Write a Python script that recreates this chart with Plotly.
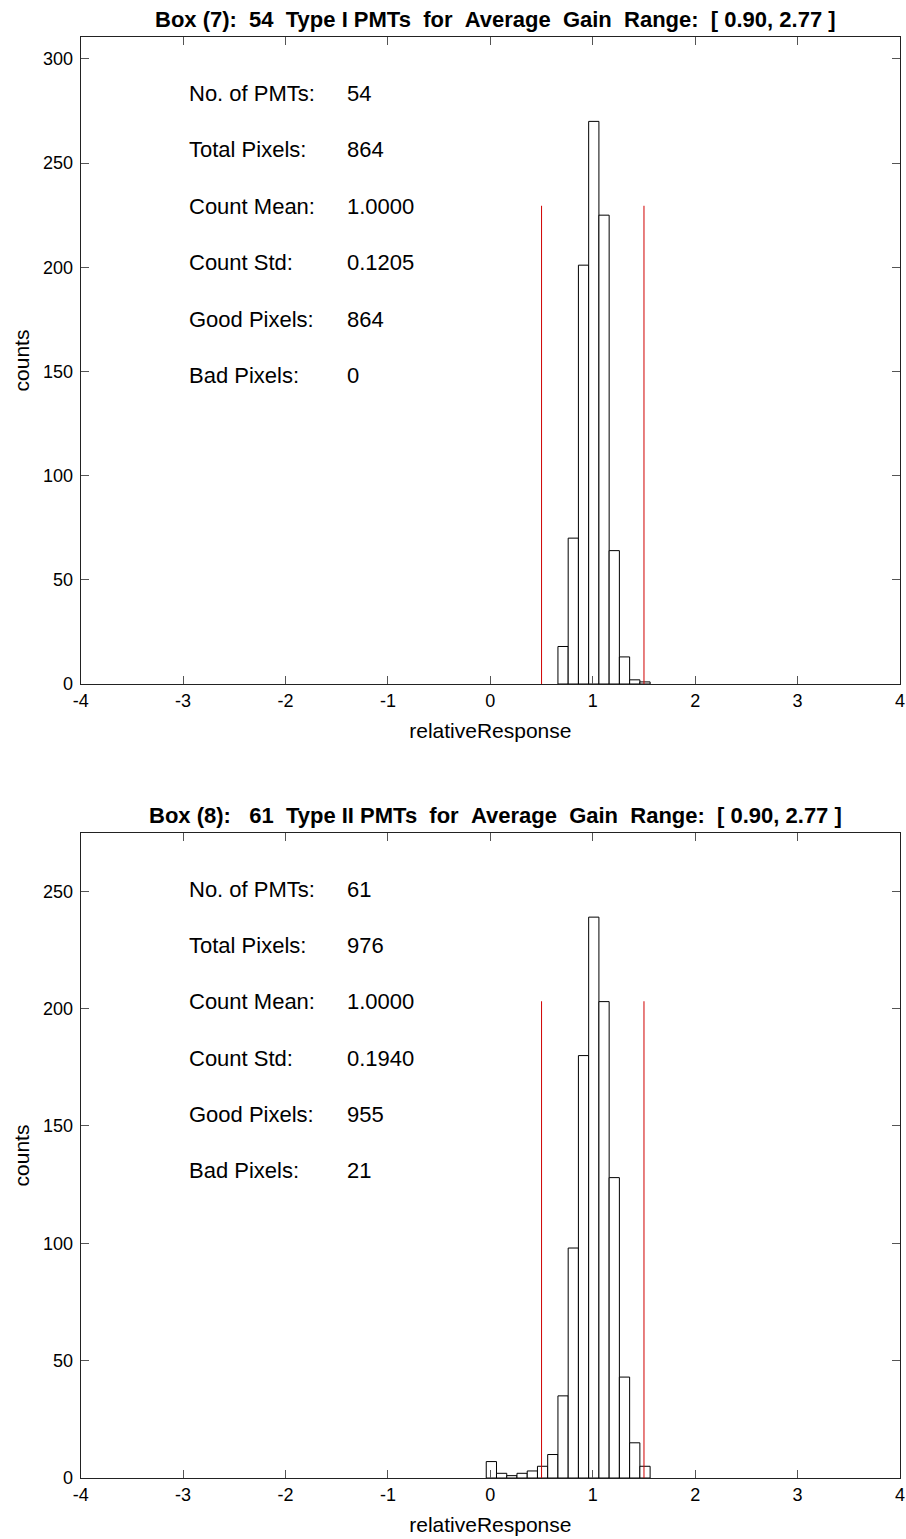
import plotly.graph_objects as go

# ---------------- data ----------------
top_centers = [0.71, 0.81, 0.91, 1.01, 1.11, 1.21, 1.31, 1.41, 1.51]
top_counts = [18, 70, 201, 270, 225, 64, 13, 2, 1]

bot_centers = [0.01, 0.11, 0.21, 0.31, 0.41, 0.51, 0.61, 0.71, 0.81,
               0.91, 1.01, 1.11, 1.21, 1.31, 1.41, 1.51]
bot_counts = [7, 2, 1, 2, 3, 5, 10, 35, 98, 180, 239, 203, 128, 43, 15, 5]

bin_width = 0.1
cut_low, cut_high = 0.5, 1.5

stat_labels = ["No. of PMTs:", "Total Pixels:", "Count Mean:",
               "Count Std:", "Good Pixels:", "Bad Pixels:"]
top_stats = ["54", "864", "1.0000", "0.1205", "864", "0"]
bot_stats = ["61", "976", "1.0000", "0.1940", "955", "21"]

top_title = "Box (7):  54  Type I PMTs  for  Average  Gain  Range:  [ 0.90, 2.77 ]"
bot_title = "Box (8):   61  Type II PMTs  for  Average  Gain  Range:  [ 0.90, 2.77 ]"

x_ticks = [-4, -3, -2, -1, 0, 1, 2, 3, 4]
top_yticks = [0, 50, 100, 150, 200, 250, 300]
bot_yticks = [0, 50, 100, 150, 200, 250]

# ---------------- figure ----------------
W, H = 906, 1539
FONT = "Liberation Sans, Arial, Helvetica, sans-serif"

fig = go.Figure()

panels = [
    dict(centers=top_centers, counts=top_counts, stats=top_stats, title=top_title,
         yticks=top_yticks, xa="x", ya="y", px_top=37, px_bot=684),
    dict(centers=bot_centers, counts=bot_counts, stats=bot_stats, title=bot_title,
         yticks=bot_yticks, xa="x2", ya="y2", px_top=833, px_bot=1478),
]

px_left, px_right = 80.7, 900

for i, p in enumerate(panels):
    ymax = max(p["counts"])
    fig.add_trace(go.Bar(
        x=p["centers"], y=p["counts"], width=bin_width,
        marker=dict(color="white", line=dict(color="black", width=1)),
        xaxis=p["xa"], yaxis=p["ya"], showlegend=False, hoverinfo="x+y"))
    for c in (cut_low, cut_high):
        fig.add_trace(go.Scatter(
            x=[c, c], y=[0, 0.85 * ymax], mode="lines",
            line=dict(color="#d00000", width=1),
            xaxis=p["xa"], yaxis=p["ya"], showlegend=False, hoverinfo="skip"))

    suffix = "" if i == 0 else "2"
    ydom = [1 - p["px_bot"] / H, 1 - p["px_top"] / H]
    axis_common = dict(
        showline=True, linecolor="#222", linewidth=1, mirror="ticks",
        ticks="inside", ticklen=8, tickcolor="#555", tickwidth=1,
        showgrid=False, zeroline=False, automargin=False,
        tickfont=dict(family=FONT, size=18, color="black"),
    )
    fig.update_layout(**{
        "xaxis" + suffix: dict(
            domain=[px_left / W, px_right / W], range=[-4, 4],
            tickvals=x_ticks, ticktext=[str(v) for v in x_ticks],
            anchor="y" + suffix,
            title=dict(text="relativeResponse", standoff=13,
                       font=dict(family=FONT, size=21, color="black")),
            **axis_common),
        "yaxis" + suffix: dict(
            domain=ydom, range=[0, 1.15 * ymax],
            tickvals=p["yticks"], ticktext=[str(v) for v in p["yticks"]],
            anchor="x" + suffix, ticklabelstandoff=3,
            title=dict(text="counts", standoff=7,
                       font=dict(family=FONT, size=21, color="black")),
            **axis_common),
    })

    # title
    title_y = p["px_top"] - 18
    fig.add_annotation(
        text="<b>" + p["title"].replace(" ", "\u00a0") + "</b>",
        xref="paper", yref="paper",
        x=495 / W, y=1 - title_y / H, xanchor="center", yanchor="middle",
        showarrow=False, font=dict(family=FONT, size=22, color="black"))

    # stats text
    for k, (lab, val) in enumerate(zip(stat_labels, p["stats"])):
        yy = 1 - 0.0873 * (k + 1)
        fig.add_annotation(
            text=lab, xref=p["xa"] + " domain", yref=p["ya"] + " domain",
            x=0.1298, y=yy, xanchor="left", yanchor="middle", showarrow=False,
            font=dict(family=FONT, size=22, color="black"))
        fig.add_annotation(
            text=val, xref=p["xa"] + " domain", yref=p["ya"] + " domain",
            x=0.3226, y=yy, xanchor="left", yanchor="middle", showarrow=False,
            font=dict(family=FONT, size=22, color="black"))

fig.update_layout(
    width=W, height=H, margin=dict(l=0, r=0, t=0, b=0),
    paper_bgcolor="white", plot_bgcolor="white",
    barmode="overlay",
)

fig.write_html("out.html")
